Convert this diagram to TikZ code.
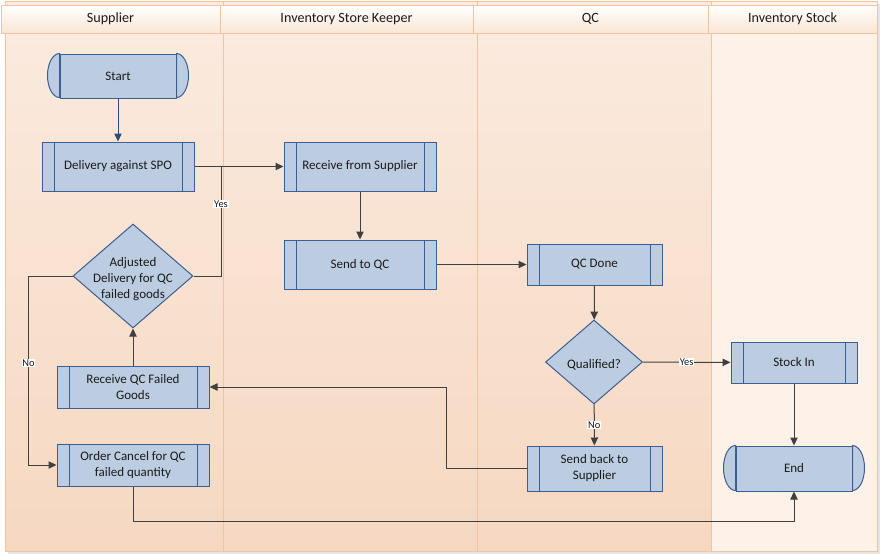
\documentclass[tikz,border=0pt]{standalone}
\usepackage{fontspec}
\setmainfont{Carlito}
\usetikzlibrary{arrows.meta,shapes.geometric}
\definecolor{lanetop}{HTML}{FBEBDF}
\definecolor{lanebot}{HTML}{F6D8C1}
\definecolor{stocklane}{HTML}{FDF1E8}
\definecolor{laneline}{HTML}{EEC4A2}
\definecolor{headbot}{HTML}{FBE6D5}
\definecolor{nodefill}{HTML}{BDCDE1}
\definecolor{nodeline}{HTML}{3D5E92}
\definecolor{arrowc}{HTML}{404040}
\definecolor{startarrow}{HTML}{2E4D7B}
\definecolor{txt}{HTML}{1A1A1A}
\newcommand{\dtext}[1]{\makebox[0pt][c]{\raisebox{-0.5em}[0pt][0pt]{\begin{tabular}{@{}c@{}}#1\end{tabular}}}}
\tikzset{
  lane/.style={draw=laneline, line width=0.75pt, top color=lanetop, bottom color=lanebot},
  stocklanestyle/.style={draw=laneline, line width=0.75pt, fill=stocklane},
  header/.style={draw=laneline, line width=0.75pt, top color=white, bottom color=headbot, minimum height=21pt, inner sep=0pt, text=txt, font=\fontsize{10.6}{12}\selectfont},
  proc/.style={draw=nodeline, fill=nodefill, rectangle, line width=0.75pt, align=center, text=txt, inner sep=0pt,
    path picture={
      \draw[nodeline, line width=0.75pt] ([xshift=9pt]path picture bounding box.north west) -- ([xshift=9pt]path picture bounding box.south west);
      \draw[nodeline, line width=0.75pt] ([xshift=-9pt]path picture bounding box.north east) -- ([xshift=-9pt]path picture bounding box.south east);}},
  term/.style={draw=nodeline, fill=nodefill, rectangle, line width=0.75pt, text=txt, inner sep=0pt},
  termcap/.style={draw=nodeline, fill=nodefill, line width=0.75pt},
  decision/.style={draw=nodeline, fill=nodefill, diamond, line width=0.75pt, align=center, text=txt, inner sep=0pt},
  conn/.style={draw=arrowc, line width=0.75pt},
  arr/.style={conn, -{Triangle[length=6pt,width=5.5pt]}},
  lab/.style={fill=white, inner sep=0.6pt, text=txt, font=\fontsize{7.8}{9}\selectfont}
}
\begin{document}
\begin{tikzpicture}[x=0.75pt, y=-0.75pt, font=\fontsize{9.75}{12}\selectfont]
\useasboundingbox[fill=white] (0,0) rectangle (882,554);
% shadow
\fill[black!10] (8,4) rectangle (880,554);
% lanes
\path[lane] (5,1) rectangle (223,551);
\path[lane] (223,1) rectangle (477,551);
\path[lane] (477,1) rectangle (711,551);
\path[stocklanestyle] (711,1) rectangle (877,551);
% headers
\node[header, minimum width=219*0.75pt] (h1) at (110.5,19) {Supplier};
\node[header, minimum width=253*0.75pt] (h2) at (346.5,19) {Inventory Store Keeper};
\node[header, minimum width=235*0.75pt] (h3) at (590.5,19) {QC};
\node[header, minimum width=169*0.75pt] (h4) at (792.5,19) {Inventory Stock};

% nodes
\node[term, minimum width=87pt, minimum height=33pt] (start) at (118,76) {Start};
\filldraw[termcap] (start.north west) arc[start angle=90, end angle=270, x radius=9pt, y radius=16.5pt] -- cycle;
\filldraw[termcap] (start.north east) arc[start angle=90, end angle=-90, x radius=9pt, y radius=16.5pt] -- cycle;

\node[proc, minimum width=114pt, minimum height=36.75pt] (sup) at (118,166.5) {Delivery against SPO};
\node[proc, minimum width=114pt, minimum height=36.75pt] (rfs) at (360,166.5) {Receive from Supplier};
\node[proc, minimum width=114pt, minimum height=36.75pt] (stq) at (360,264.5) {Send to QC};
\node[proc, minimum width=101.25pt, minimum height=30.75pt] (qcd) at (594.5,264.5) {QC Done};
\node[decision, minimum width=72.75pt, minimum height=63pt] (qual) at (594,362) {\dtext{Qualified?}};
\node[proc, minimum width=94.5pt, minimum height=30.75pt] (stock) at (794,362.5) {Stock In};
\node[proc, minimum width=101.25pt, minimum height=33.75pt] (sbs) at (594.5,468.5) {Send back to\\Supplier};
\node[term, minimum width=87pt, minimum height=33.75pt] (end) at (794,468.5) {End};
\filldraw[termcap] (end.north west) arc[start angle=90, end angle=270, x radius=9pt, y radius=16.875pt] -- cycle;
\filldraw[termcap] (end.north east) arc[start angle=90, end angle=-90, x radius=9pt, y radius=16.875pt] -- cycle;
\node[decision, minimum width=90pt, minimum height=78pt] (adj) at (133,276) {\dtext{Adjusted\\Delivery for QC\\failed goods}};
\node[proc, minimum width=114pt, minimum height=31.5pt] (rqc) at (133,387) {Receive QC Failed\\Goods};
\node[proc, minimum width=114pt, minimum height=31.5pt] (oc) at (133,465) {Order Cancel for QC\\failed quantity};

% connectors
\coordinate (j1) at (221,166.5);
\draw[arr, draw=startarrow, -{Triangle[length=6pt,width=5.5pt]}] (start) -- (sup);
\draw[arr] (sup) -- (rfs);
\draw[conn] (adj.east) -| node[lab, pos=0.83] {Yes} (j1);
\draw[arr] (rfs) -- (stq);
\draw[arr] (stq) -- (qcd);
\draw[arr] (qcd) -- (qual);
\draw[arr] (qual) -- node[lab] {Yes} (stock);
\draw[arr] (qual) -- node[lab] {No} (sbs);
\draw[arr] (stock) -- (end);
\draw[arr] (sbs.west) -- ++(-80,0) |- (rqc.east);
\draw[arr] (rqc) -- (adj);
\draw[arr] (adj.west) -- ++(-44,0) -- node[lab, pos=0.46] {No} ++(0,189) -- (oc.west);
\draw[arr] (oc.south) -- ++(0,35) -| (end.south);
\end{tikzpicture}
\end{document}
